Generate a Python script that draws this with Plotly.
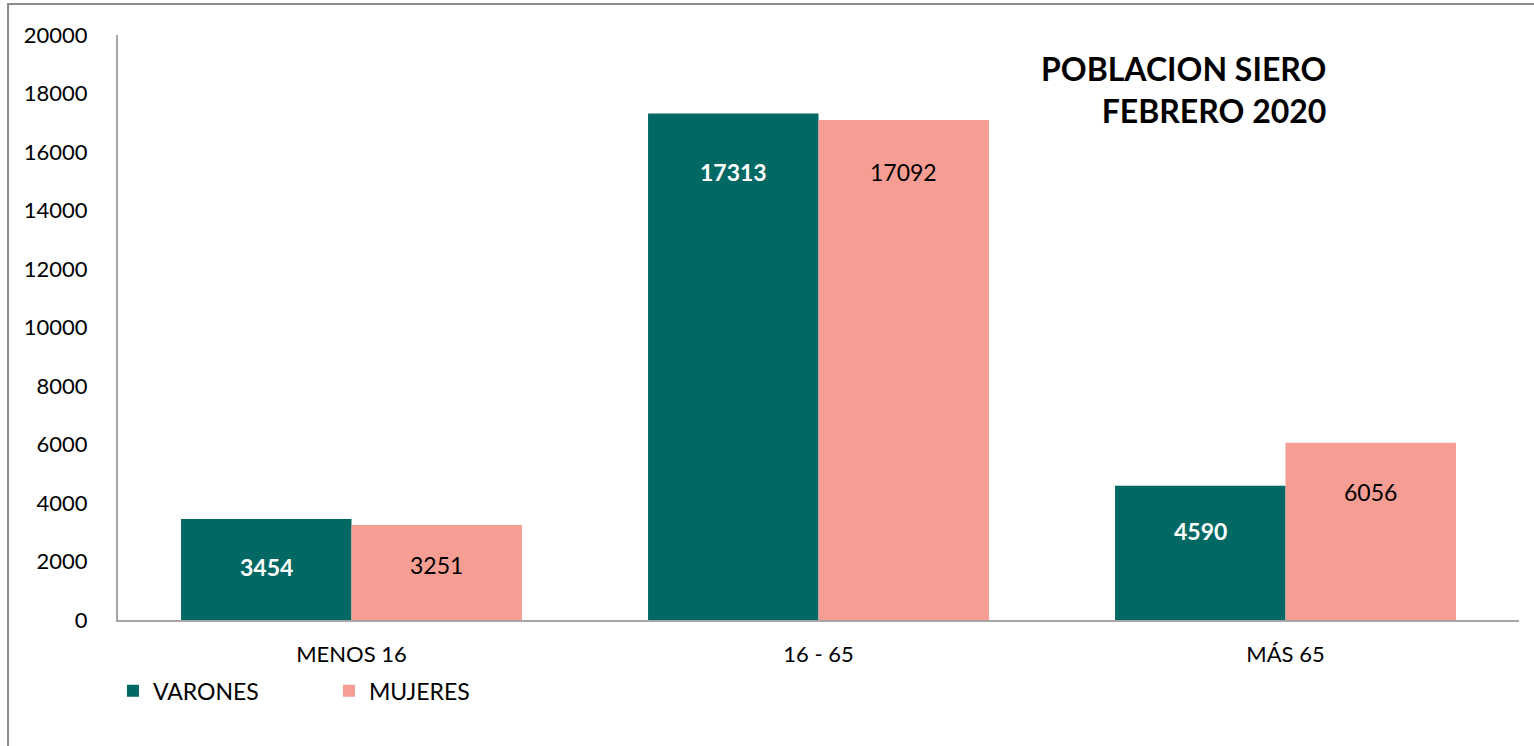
import plotly.graph_objects as go

categories = ["MENOS 16", "16 - 65", "MÁS 65"]
varones = [3454, 17313, 4590]
mujeres = [3251, 17092, 6056]
# where each data label sits (value on the y axis), as in the original chart
varones_label_y = [1812, 15316, 3043]
mujeres_label_y = [1880, 15316, 4376]

TEAL = "#016864"
PINK = "#F69D94"
FONT = "Lato, 'Open Sans', sans-serif"

fig = go.Figure()
fig.add_trace(go.Bar(x=categories, y=varones, name="VARONES",
                     marker=dict(color=TEAL, line=dict(width=0))))
fig.add_trace(go.Bar(x=categories, y=mujeres, name="MUJERES",
                     marker=dict(color=PINK, line=dict(width=0))))

annotations = []
for cat, v, ly in zip(categories, varones, varones_label_y):
    annotations.append(dict(x=cat, y=ly, xref="x", yref="y", xshift=-85,
                            text=f"<b>{v}</b>", showarrow=False,
                            font=dict(family=FONT, size=23, color="white")))
for cat, v, ly in zip(categories, mujeres, mujeres_label_y):
    annotations.append(dict(x=cat, y=ly, xref="x", yref="y", xshift=85,
                            text=str(v), showarrow=False,
                            font=dict(family=FONT, size=23, color="black")))

annotations.append(dict(x=0.8637, y=0.979, xref="paper", yref="paper",
                        xanchor="right", yanchor="top", align="right",
                        text="<b>POBLACION SIERO<br>FEBRERO 2020</b>",
                        showarrow=False,
                        font=dict(family=FONT, size=32, color="black")))

fig.update_layout(
    width=1534, height=746,
    margin=dict(l=118, r=15, t=35, b=126),
    paper_bgcolor="white", plot_bgcolor="white",
    barmode="group", bargap=0.27, bargroupgap=0,
    font=dict(family=FONT, size=22, color="black"),
    annotations=annotations,
    showlegend=True,
    legend=dict(orientation="h", x=-0.0036, y=-0.121, xanchor="left", yanchor="middle",
                font=dict(family=FONT, size=23, color="black"),
                entrywidth=171, entrywidthmode="pixels",
                itemwidth=30, traceorder="normal"),
    shapes=[dict(type="rect", xref="paper", yref="paper",
                 x0=-0.0785, x1=1.2, y0=-0.6, y1=1.053,
                 line=dict(color="#8C8C8C", width=2), layer="below")],
)
fig.update_yaxes(range=[0, 20000], dtick=2000, tickformat="d", showgrid=False,
                 zeroline=False, showline=True, linecolor="#A6A6A6", linewidth=2,
                 ticks="", tickfont=dict(family=FONT, size=22, color="black"),
                 ticklabelstandoff=24)
fig.update_xaxes(showgrid=False, showline=True, linecolor="#A6A6A6", linewidth=2,
                 ticks="", tickfont=dict(family=FONT, size=22, color="black"),
                 ticklabelstandoff=14)

# drop the default 8px body margin so the chart frame fills the window
fig.write_html("out.html",
               config={"displayModeBar": False},
               post_script="document.body.style.margin='0';"
                           "document.body.style.overflow='hidden';")
